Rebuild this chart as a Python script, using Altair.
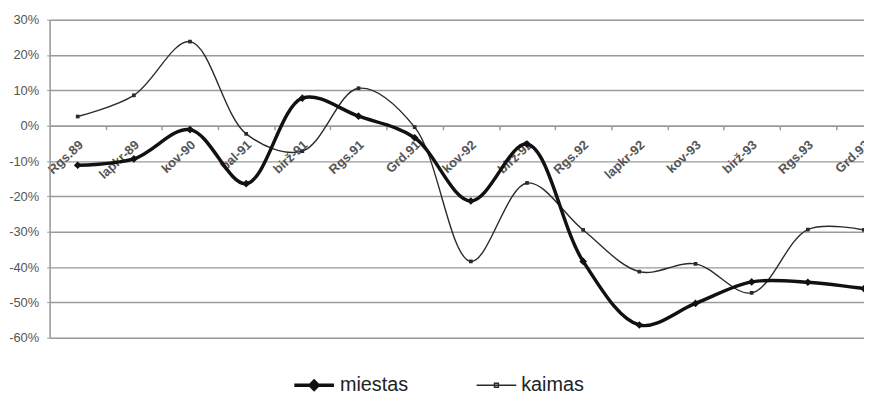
import json
import altair as alt
import pandas as pd

categories = ["Rgs.89", "lapkr-89", "kov-90", "bal-91", "birž-91", "Rgs.91", "Grd.91",
              "kov-92", "birž-92", "Rgs.92", "lapkr-92", "kov-93", "birž-93", "Rgs.93", "Grd.93"]
miestas = [-11.2, -9.4, -1.1, -16.4, 7.8, 2.7, -3.4, -21.3, -5.2, -38.4, -56.4, -50.3, -44.2, -44.3, -46.1]
kaimas = [2.6, 8.6, 23.8, -2.3, -7.2, 10.6, -0.4, -38.4, -16.2, -29.5, -41.3, -39.1, -47.3, -29.4, -29.5]
series = ["miestas", "kaimas"]
y_ticks = [-60, -50, -40, -30, -20, -10, 0, 10, 20, 30]

rows = []
for name, vals in zip(series, [miestas, kaimas]):
    for i, v in enumerate(vals):
        rows.append({"idx": i, "label": categories[i], "value": v, "series": name})
df = pd.DataFrame(rows)

W, H = 822, 321
band = W / 14.5
FONT = "Liberation Sans"
GRID = "#9a9a9a"
C_M, C_K = "#111111", "#2a2a2a"

label_expr = json.dumps(categories) + "[datum.value]"

x = alt.X(
    "idx:Q",
    scale=alt.Scale(domain=[-0.5, 14], nice=False, zero=False),
    axis=alt.Axis(
        values=list(range(15)), labelExpr=label_expr, title=None, grid=False,
        orient="bottom", offset=-round(H * 60 / 90),
        tickOffset=band / 2, labelOffset=-band / 2 + 3,
        tickSize=4, tickColor=GRID, tickWidth=1.5,
        domainColor=GRID, domainWidth=1.5,
        labelAngle=-43, labelAlign="right", labelBaseline="middle",
        labelFont=FONT, labelFontSize=13, labelFontWeight="bold", labelColor="#555555",
        labelPadding=13, labelOverlap=False, labelBound=False, labelFlush=False,
    ),
)
y = alt.Y(
    "value:Q",
    scale=alt.Scale(domain=[-60, 30], nice=False),
    axis=alt.Axis(
        values=y_ticks, labelExpr="datum.value + '%'", title=None,
        grid=True, gridColor=GRID, gridWidth=1.5,
        domainColor=GRID, domainWidth=1.5, tickColor=GRID, tickSize=3,
        labelFont=FONT, labelFontSize=13, labelColor="#555555", labelPadding=8,
    ),
)

base = alt.Chart(df)
line_m = base.transform_filter(alt.datum.series == "miestas").mark_line(
    interpolate="catmull-rom", color=C_M, strokeWidth=3.5).encode(x=x, y=y)
line_k = base.transform_filter(alt.datum.series == "kaimas").mark_line(
    interpolate="catmull-rom", color=C_K, strokeWidth=1.4).encode(x=x, y=y)
pts_m = base.transform_filter(alt.datum.series == "miestas").mark_point(
    shape="diamond", filled=True, size=60, color=C_M, opacity=1).encode(x=x, y=y)
pts_k = base.transform_filter(alt.datum.series == "kaimas").mark_point(
    shape="square", filled=True, size=14, color=C_K, opacity=1).encode(x=x, y=y)

sym_m = "M-1,0H1M-0.2,0L0,-0.2L0.2,0L0,0.2Z"
sym_k = "M-1,0H1M-0.1,-0.1H0.1V0.1H-0.1Z"
legend_layer = base.transform_filter("datum.idx < 0").mark_point(
    filled=False, size=1600, opacity=1, clip=True).encode(
    x=x, y=y,
    color=alt.Color("series:N", scale=alt.Scale(domain=series, range=[C_M, C_K]),
                    legend=alt.Legend(
                        title=None, orient="none", legendX=245, legendY=H + 26,
                        direction="horizontal", symbolSize=1600,
                        labelFont=FONT, labelFontSize=20, labelColor="#222222",
                        labelOffset=4, columnPadding=66, labelLimit=200)),
    shape=alt.Shape("series:N", scale=alt.Scale(domain=series, range=[sym_m, sym_k])),
    strokeWidth=alt.StrokeWidth("series:N", scale=alt.Scale(domain=series, range=[3.5, 1.4])),
)

chart = alt.layer(line_k, line_m, pts_k, pts_m, legend_layer).properties(
    width=W, height=H,
    autosize=alt.AutoSizeParams(type="none"),
    padding={"left": 42, "top": 10, "right": 0, "bottom": 56},
).configure_view(stroke=None).configure(background="white")

chart.save("out.html", embed_options={"renderer": "svg", "actions": False})
